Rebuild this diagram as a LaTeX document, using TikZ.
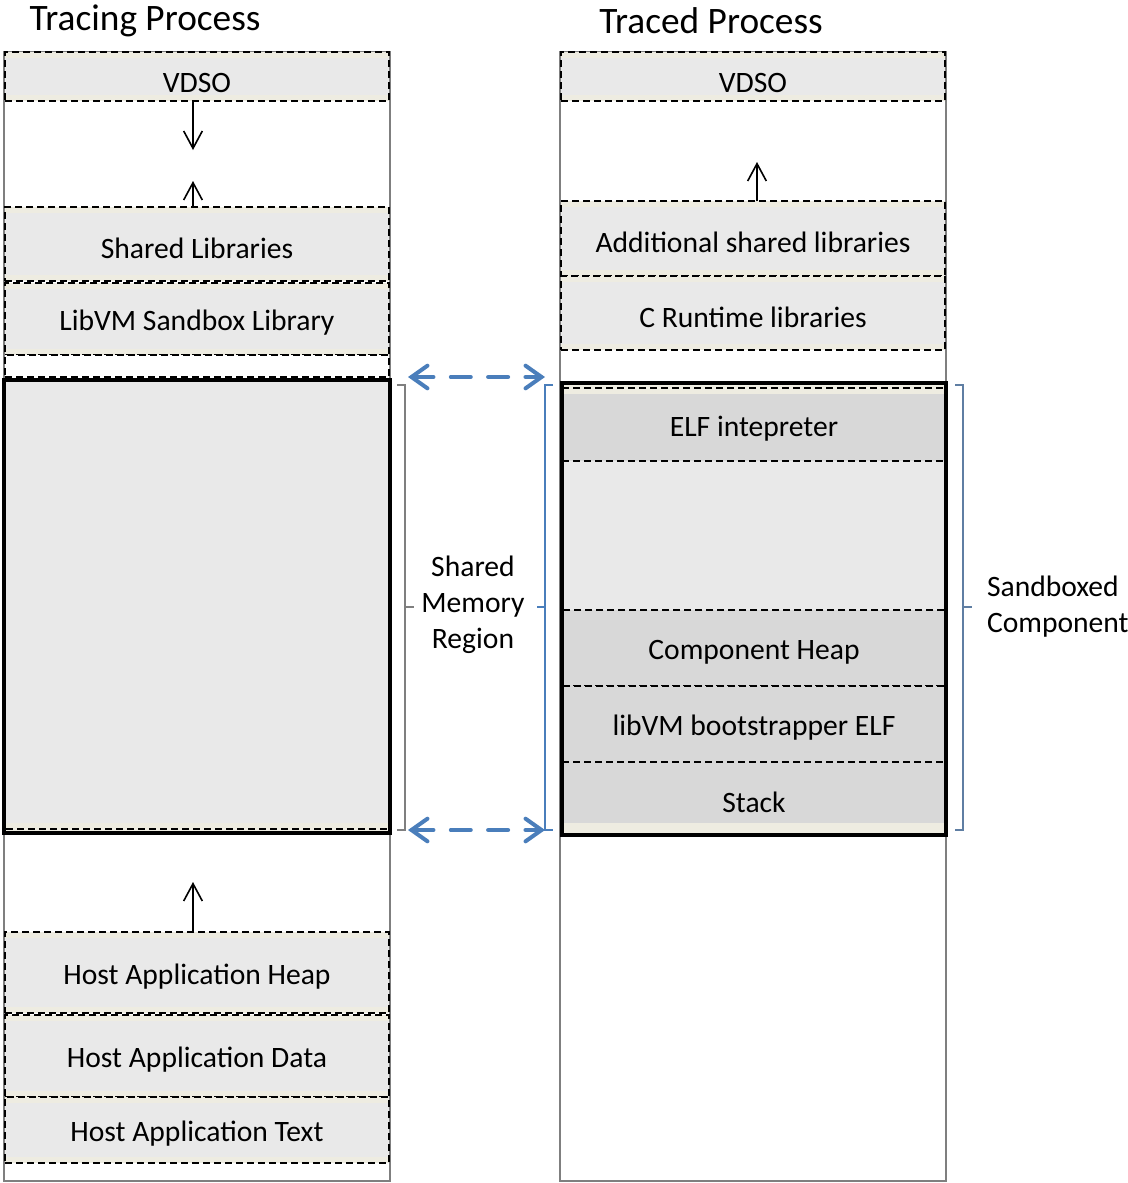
\documentclass[tikz,border=0pt]{standalone}
\usepackage{fontspec}
\setmainfont{Carlito}
\usetikzlibrary{arrows.meta,fit}
\definecolor{beige}{HTML}{EEECE1}
\definecolor{segL}{HTML}{E9E9E9}
\definecolor{segD}{HTML}{D8D8D8}
\definecolor{colgray}{HTML}{7F7F7F}
\definecolor{accent}{HTML}{4A7EBB}
\begin{document}
\begin{tikzpicture}[x=0.75pt,y=-0.75pt,
  every node/.style={inner sep=0pt, outer sep=0pt, font=\fontsize{22.2}{27}\selectfont},
  every label/.style={yshift=-3pt},
  colbox/.style={draw=colgray, line width=1.5pt, fill=white, fit={#1}},
  segline/.style={draw=black, line width=1pt, dash pattern=on 5.25pt off 3pt},
  seg/.style={segline, fill=beige, fit={#1},
    path picture={\fill[segL] ([yshift=-4.5pt]path picture bounding box.north west) rectangle ([yshift=4.5pt]path picture bounding box.south east);}},
  gapseg/.style={segline, fill=white, fit={#1}},
  darkseg/.style={segline, fill=segD, fit={#1}},
  thick/.style={draw=black, line width=3pt, fit={#1}},
  plainfit/.style={fit={#1}},
  arr/.style={black, line width=1.2pt, -{Straight Barb[length=13pt,width=14pt,line width=1.2pt]}},
  blue arr/.style={accent, line width=3pt, line cap=round, dash pattern=on 15pt off 13pt,
    {Straight Barb[length=12pt,width=17pt,line width=3pt,line cap=round]}-{Straight Barb[length=12pt,width=17pt,line width=3pt,line cap=round]}},
  brace/.style={line width=1pt},
  title/.style={font=\fontsize{28}{30}\selectfont}
]
\useasboundingbox (0,0) rectangle (1128,1183);

% columns
\node[colbox={(4,52)(390,1181)}] (tracing) {};
\node[colbox={(560,52)(946,1181)}] (traced) {};

% tracing process segments
\node[seg={(5,52)(389,101)}, label={[yshift=-1.5pt]center:VDSO}] (vdsoL) {};
\node[seg={(5,207)(389,281)}, label=center:Shared Libraries] (shlib) {};
\node[seg={(5,283)(389,355)}, label=center:LibVM Sandbox Library] (libvm) {};
\node[gapseg={(5,355)(389,377)}] (gapL) {};
\node[seg={(5,932)(389,1013)}, label=center:Host Application Heap] (heap) {};
\node[seg={(5,1015)(389,1097)}, label=center:Host Application Data] (data) {};
\node[seg={(5,1097)(389,1163)}, label=center:Host Application Text] (text) {};

% shared region (tracing)
\node[fill=segL, plainfit={(4,380)(390,833)}] (sharedfill) {};
\fill[beige] (6,823) rectangle (388,831);
\draw[segline] (6,829) -- (388,829);
\node[thick={(4,380)(390,833)}] (sharedL) {};

% traced process segments
\node[seg={(561,52)(945,101)}, label={[yshift=-1.5pt]center:VDSO}] (vdsoR) {};
\node[seg={(561,201)(945,276)}, label=center:Additional shared libraries] (addlib) {};
\node[seg={(561,276)(945,350)}, label=center:C Runtime libraries] (crt) {};

% sandboxed component
\node[fill=segL, plainfit={(562,383)(946,835)}] (sandfill) {};
\fill[beige] (563,384) rectangle (945,394);
\fill[beige] (563,823) rectangle (945,834);
\fill[segD] (563,394) rectangle (945,461);
\node[plainfit={(562,388)(946,461)}, label=center:ELF intepreter] (elf) {};
\draw[segline] (562,388) -- (946,388);
\draw[segline] (562,461) -- (946,461);
\node[darkseg={(562,610)(946,686)}, label=center:Component Heap] (cheap) {};
\node[darkseg={(562,686)(946,762)}, label=center:libVM bootstrapper ELF] (boot) {};
\fill[segD] (563,762) rectangle (945,823);
\node[plainfit={(562,762)(946,835)}, label=center:Stack] (stack) {};
\draw[segline] (562,762) -- (946,762);
\node[thick={(562,383)(946,835)}] (sandbox) {};

% growth arrows
\coordinate (tipL1) at (193,150);
\coordinate (tipL2) at (193,181);
\coordinate (tipL3) at (193,882);
\coordinate (tipR1) at (757,162);
\draw[arr] (vdsoL.south -| tipL1) -- (tipL1);
\draw[arr] (shlib.north -| tipL2) -- (tipL2);
\draw[arr] (heap.north -| tipL3) -- (tipL3);
\draw[arr] (addlib.north -| tipR1) -- (tipR1);

% shared mapping arrows
\coordinate (ma) at (408,377);
\coordinate (mb) at (545,377);
\coordinate (mc) at (408,830);
\coordinate (md) at (545,830);
\draw[blue arr] (ma) -- (mb);
\draw[blue arr] (mc) -- (md);

% braces
\draw[brace, colgray] (397,385) -- (405,385) -- (405,830) -- (397,830);
\draw[brace, colgray] (405,607) -- (414,607);
\draw[brace, accent] (553,385) -- (545,385) -- (545,830) -- (553,830);
\draw[brace, accent] (545,607) -- (537,607);
\draw[brace, accent!60!colgray] (955,385) -- (963,385) -- (963,830) -- (955,830);
\draw[brace, accent!60!colgray] (963,607) -- (972,607);

% labels
\node[align=center] (smr) at (473,605) {Shared\\Memory\\Region};
\node[align=left, anchor=west] (sbc) at (987,607) {Sandboxed\\Component};
\node[title] (t1) at (145,21) {Tracing Process};
\node[title] (t2) at (711,21) {Traced Process};
\end{tikzpicture}
\end{document}
